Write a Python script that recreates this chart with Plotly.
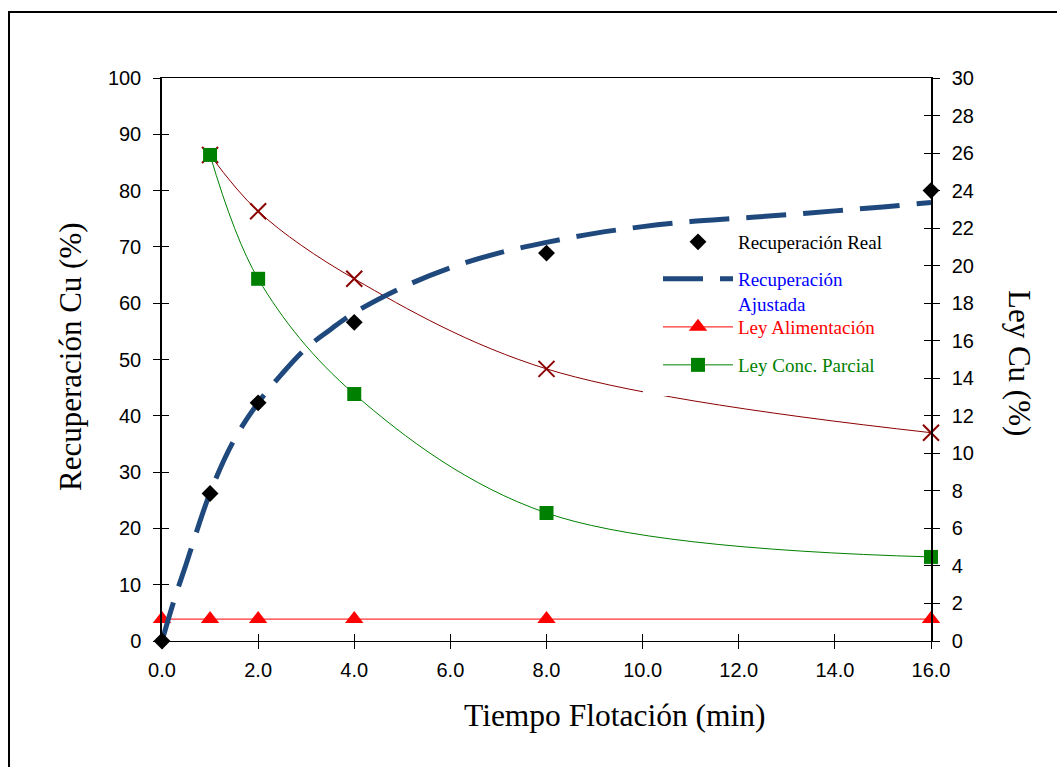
import plotly.graph_objects as go

# ---------------- data ----------------
t_real = [0, 1, 2, 4, 8, 16]
rec_real = [0, 26.2, 42.3, 56.6, 68.9, 80.0]

t_fit = [0, 0.25, 0.5, 1, 1.5, 2, 2.5, 3, 3.5, 4, 5, 6, 7, 8, 9, 10, 11, 12, 13, 14, 15, 16]
rec_fit = [0, 7.2, 13.6, 26.3, 35.7, 42.3, 47.5, 52.0, 55.3, 58.3, 62.8, 66.3, 68.9,
           70.8, 72.4, 73.6, 74.5, 75.1, 75.7, 76.4, 77.1, 77.9]

t_alim = [0, 1, 2, 4, 8, 16]
ley_alim = [1.17, 1.17, 1.17, 1.17, 1.17, 1.17]

t_conc = [1, 2, 4, 8, 16]
ley_conc = [25.9, 19.3, 13.16, 6.82, 4.48]

t_acum = [1, 2, 4, 8, 16]
ley_acum = [25.9, 22.9, 19.3, 14.5, 11.1]

x_ticks = [0, 2, 4, 6, 8, 10, 12, 14, 16]

SANS = "Liberation Sans, Arial, sans-serif"
SERIF = "Liberation Serif, Times New Roman, serif"

# plot-area pixel geometry
W, H = 1057, 767
L, R, T, B = 162, 931, 78, 641


def px(x):
    return (x - L) / (R - L)


def py(y):
    return (B - y) / (B - T)


fig = go.Figure()

# right-axis (Ley) series on primary y
fig.add_trace(go.Scatter(
    x=t_acum, y=ley_acum, mode="lines+markers", line=dict(color="#8B0000", width=1, shape="spline"),
    marker=dict(symbol="x-thin", size=16, line=dict(color="#8B0000", width=2)),
    showlegend=False, xaxis="x", yaxis="y", cliponaxis=False))
fig.add_trace(go.Scatter(
    x=t_conc, y=ley_conc, mode="lines+markers", name="Ley Conc. Parcial",
    line=dict(color="#008000", width=1, shape="spline"),
    marker=dict(symbol="square", size=14, color="#008000"),
    legend="legend4", xaxis="x", yaxis="y", cliponaxis=False))
fig.add_trace(go.Scatter(
    x=t_alim, y=ley_alim, mode="lines+markers", name="Ley Alimentación",
    line=dict(color="#FF3333", width=1.2),
    marker=dict(symbol="triangle-up", size=16, color="#FF0000"),
    legend="legend3", xaxis="x", yaxis="y", cliponaxis=False))

# left-axis (Recuperación) series on overlay y2
fig.add_trace(go.Scatter(
    x=t_fit, y=rec_fit, mode="lines", name="Recuperación<br>Ajustada",
    line=dict(color="#1F497D", width=5, dash="40px,17px", shape="spline"),
    legend="legend2", xaxis="x", yaxis="y2"))
fig.add_trace(go.Scatter(
    x=t_real, y=rec_real, mode="markers", name="Recuperación Real",
    marker=dict(symbol="diamond", size=13, color="black"),
    legend="legend", xaxis="x", yaxis="y2", cliponaxis=False))

# dummy traces for tick-crossing overlay axes
fig.add_trace(go.Scatter(x=[None], y=[None], xaxis="x2", yaxis="y3", showlegend=False, hoverinfo="skip"))
fig.add_trace(go.Scatter(x=[None], y=[None], xaxis="x", yaxis="y4", showlegend=False, hoverinfo="skip"))

tickfont = dict(family=SANS, size=20, color="black")

fig.update_layout(
    width=W, height=H,
    margin=dict(l=L, r=W - R, t=T, b=H - B, pad=0),
    paper_bgcolor="white", plot_bgcolor="white",
    xaxis=dict(range=[0, 16], tickvals=x_ticks, tickformat=".1f", showgrid=False, zeroline=False,
               showline=True, linecolor="black", linewidth=1, mirror=True,
               ticks="outside", ticklen=7, tickcolor="black", tickwidth=1,
               tickfont=tickfont, ticklabelstandoff=4),
    xaxis2=dict(range=[0, 16], tickvals=x_ticks, overlaying="x", anchor="y", side="bottom",
                showgrid=False, zeroline=False, showline=False, ticks="inside", ticklen=7,
                tickcolor="black", tickwidth=1, showticklabels=False),
    yaxis=dict(range=[0, 30], dtick=2, side="right", showgrid=False, zeroline=False,
               showline=True, linecolor="black", linewidth=1.5,
               ticks="outside", ticklen=7, tickcolor="black", tickwidth=1,
               tickfont=tickfont, ticklabelstandoff=8),
    yaxis2=dict(range=[0, 100], dtick=10, side="left", overlaying="y", anchor="x",
                showgrid=False, zeroline=False, showline=True, linecolor="black", linewidth=1.5,
                ticks="outside", ticklen=7, tickcolor="black", tickwidth=1,
                tickfont=tickfont, ticklabelstandoff=8),
    yaxis3=dict(range=[0, 100], dtick=10, side="left", overlaying="y", anchor="x2",
                showgrid=False, zeroline=False, showline=False, ticks="inside", ticklen=7,
                tickcolor="black", tickwidth=1, showticklabels=False),
    yaxis4=dict(range=[0, 30], dtick=2, side="right", overlaying="y", anchor="x",
                showgrid=False, zeroline=False, showline=False, ticks="inside", ticklen=7,
                tickcolor="black", tickwidth=1, showticklabels=False),
    legend=dict(x=px(658), y=py(242), xanchor="left", yanchor="middle", bgcolor="rgba(0,0,0,0)",
                font=dict(family=SERIF, size=19, color="black"), itemwidth=70),
    legend2=dict(x=px(658), y=py(260), xanchor="left", yanchor="top", bgcolor="rgba(0,0,0,0)",
                 font=dict(family=SERIF, size=19, color="#0000FF"), itemwidth=70, valign="top"),
    legend3=dict(x=px(658), y=py(327), xanchor="left", yanchor="middle", bgcolor="rgba(0,0,0,0)",
                 font=dict(family=SERIF, size=19, color="#FF0000"), itemwidth=70),
    legend4=dict(x=px(658), y=py(365), xanchor="left", yanchor="middle", bgcolor="rgba(0,0,0,0)",
                 font=dict(family=SERIF, size=19, color="#008000"), itemwidth=70),
    shapes=[
        dict(type="rect", xref="paper", yref="paper", x0=px(9), x1=px(1200), y0=py(900), y1=py(12),
             line=dict(color="black", width=2), fillcolor="rgba(0,0,0,0)", layer="above"),
        dict(type="rect", xref="paper", yref="paper", x0=px(643), x1=px(680), y0=py(396), y1=py(384),
             line=dict(width=0), fillcolor="white", layer="above"),
    ],
    annotations=[
        dict(text="Tiempo Flotación (min)", xref="paper", yref="paper", x=px(615), y=py(715),
             showarrow=False, font=dict(family=SERIF, size=31.5, color="black"),
             xanchor="center", yanchor="middle"),
        dict(text="Recuperación Cu (%)", xref="paper", yref="paper", x=px(70), y=py(357),
             showarrow=False, textangle=-90, font=dict(family=SERIF, size=31, color="black"),
             xanchor="center", yanchor="middle"),
        dict(text="Ley Cu (%)", xref="paper", yref="paper", x=px(1020), y=py(363),
             showarrow=False, textangle=90, font=dict(family=SERIF, size=31, color="black"),
             xanchor="center", yanchor="middle"),
    ],
)

fig.write_html("out.html", config={"displayModeBar": False},
               post_script="document.body.style.margin='0';")
